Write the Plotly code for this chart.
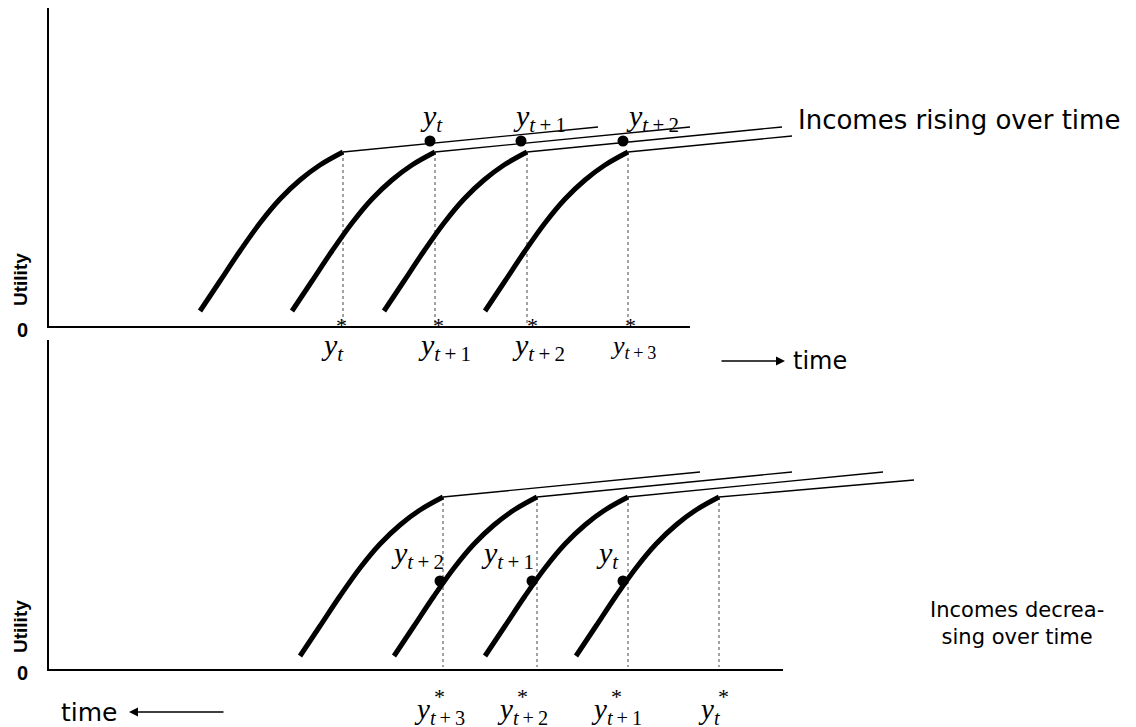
import plotly.graph_objects as go

# shape of one utility curve, measured from its kink (the reference income y*)
curve_dx = [-14.3, -12.3, -10.3, -8.3, -6.3, -4.3, -2.3, 0.0]
curve_du = [-15.9, -12.9, -9.9, -7.1, -4.7, -2.8, -1.3, 0.0]

# top panel - incomes rising over time
top_kink_x = [29.5, 38.7, 47.9, 58.0]
top_kink_u = 17.5
top_tail_x = [55.0, 64.2, 73.4, 74.4]
top_tail_u = [20.0, 20.0, 20.0, 19.1]
top_inc_x = [38.2, 47.3, 57.5]
top_inc_u = [18.6, 18.6, 18.6]
top_inc_lab = ["t", "t+1", "t+2"]
top_inc_lab_x = [37.0, 46.3, 57.6]
top_star_lab = ["t", "t+1", "t+2", "t+3"]
top_star_lab_x = [27.1, 36.8, 46.2, 56.0]
top_axis_len = (64.2, 32.2)

# bottom panel - incomes decreasing over time
bot_kink_x = [39.5, 48.9, 58.0, 67.1]
bot_kink_u = 17.3
bot_tail_x = [65.2, 74.4, 83.5, 86.6]
bot_tail_u = [19.8, 19.8, 19.8, 19.0]
bot_inc_x = [39.2, 48.4, 57.5]
bot_inc_u = [8.9, 8.9, 8.9]
bot_inc_lab = ["t+2", "t+1", "t"]
bot_inc_lab_x = [34.1, 43.1, 54.6]
bot_star_lab = ["t+3", "t+2", "t+1", "t"]
bot_star_lab_x = [36.4, 44.7, 54.1, 64.8]
bot_axis_len = (73.5, 33.0)

SERIF = "Liberation Serif"
SANS = "DejaVu Sans"


def sub_text(s):
    # "t+1" -> italic t, upright +1
    rest = s[1:]
    if rest:
        rest = "\u2009" + rest[0] + "\u2009" + rest[1:]
    return "<i>y</i><sub><i>t</i>" + rest + "</sub>"


fig = go.Figure()
annotations = []


def panel(xa, ya, kink_x, kink_u, tail_x, tail_u, inc_x, inc_u, axis_len):
    ax_x, ax_y = axis_len
    # axes
    fig.add_trace(go.Scatter(x=[0, 0, ax_x], y=[ax_y, 0, 0], mode="lines",
                             line=dict(color="black", width=2),
                             xaxis=xa, yaxis=ya, hoverinfo="skip"))
    for k, tx, tu in zip(kink_x, tail_x, tail_u):
        fig.add_trace(go.Scatter(x=[k, k], y=[kink_u, 0.3], mode="lines",
                                 line=dict(color="#444", width=1, dash="dot"),
                                 xaxis=xa, yaxis=ya, hoverinfo="skip"))
        fig.add_trace(go.Scatter(x=[k, tx], y=[kink_u, tu], mode="lines",
                                 line=dict(color="black", width=1.3),
                                 xaxis=xa, yaxis=ya, hoverinfo="skip"))
        fig.add_trace(go.Scatter(x=[k + d for d in curve_dx],
                                 y=[kink_u + d for d in curve_du],
                                 mode="lines",
                                 line=dict(color="black", width=5, shape="spline"),
                                 xaxis=xa, yaxis=ya, hoverinfo="skip"))
    fig.add_trace(go.Scatter(x=inc_x, y=inc_u, mode="markers",
                             marker=dict(color="black", size=11),
                             xaxis=xa, yaxis=ya, hoverinfo="skip"))


panel("x", "y", top_kink_x, top_kink_u, top_tail_x, top_tail_u,
      top_inc_x, top_inc_u, top_axis_len)
panel("x2", "y2", bot_kink_x, bot_kink_u, bot_tail_x, bot_tail_u,
      bot_inc_x, bot_inc_u, bot_axis_len)


def label(xr, yr, x, y, text, size, font=SERIF, **kw):
    d = dict(xref=xr, yref=yr, x=x, y=y, text=text, showarrow=False,
             font=dict(family=font, size=size, color="black"),
             xanchor="left", yanchor="middle")
    d.update(kw)
    annotations.append(d)


# income labels near the dots
for s, x in zip(top_inc_lab, top_inc_lab_x):
    label("x", "y", x, 20.9, sub_text(s), 30)
for s, x in zip(bot_inc_lab, bot_inc_lab_x):
    label("x2", "y2", x, 11.5, sub_text(s), 30)

# y* labels under the axes
for s, x in zip(top_star_lab, top_star_lab_x):
    label("x", "y", x, -2.0, sub_text(s), 30 if s != "t+3" else 26)
    label("x", "y", x + 1.5, 0.2, "*", 22)
for s, x in zip(bot_star_lab, bot_star_lab_x):
    label("x2", "y2", x, -4.1, sub_text(s), 29)
    label("x2", "y2", x + 2.0, -2.6, "*", 22)

# axis words
for xr, yr, uy in (("x", "y", 4.7), ("x2", "y2", 4.3)):
    label(xr, yr, -2.8, uy, "<b>Utility</b>", 19, "Liberation Sans",
          textangle=-90, xanchor="center")
    label(xr, yr, -2.6, -0.3, "<b>0</b>", 20, "Liberation Sans",
          xanchor="center")

label("x", "y", 74.8, 20.7, "Incomes rising over time", 26, SANS)
label("x2", "y2", 96.9, 4.7, "Incomes decrea-<br>sing over time", 21, SANS,
      xanchor="center")

# time arrows
label("x", "y", 74.3, -3.4, "time", 24, SANS)
annotations.append(dict(xref="x", yref="y", axref="x", ayref="y",
                        x=73.7, y=-3.4, ax=67.2, ay=-3.4, text="",
                        showarrow=True, arrowhead=2, arrowsize=1.2,
                        arrowwidth=1.5, arrowcolor="black"))
label("x2", "y2", 1.1, -4.2, "time", 25, SANS)
annotations.append(dict(xref="x2", yref="y2", axref="x2", ayref="y2",
                        x=8.1, y=-4.2, ax=17.7, ay=-4.2, text="",
                        showarrow=True, arrowhead=2, arrowsize=1.2,
                        arrowwidth=1.5, arrowcolor="black"))

# ranges leave room for the 8px page margin around the plot div
hidden = dict(visible=False, showgrid=False, zeroline=False)
fig.update_layout(
    width=1136, height=727,
    margin=dict(l=0, r=0, t=0, b=0),
    paper_bgcolor="white", plot_bgcolor="white",
    showlegend=False,
    xaxis=dict(range=[-4.0, 109.6], domain=[0, 1], **hidden),
    yaxis=dict(range=[-40.8, 31.9], domain=[0, 1], **hidden),
    xaxis2=dict(range=[-4.0, 109.6], domain=[0, 1], anchor="y2",
                overlaying="x", **hidden),
    yaxis2=dict(range=[-6.5, 66.2], domain=[0, 1], anchor="x2",
                overlaying="y", **hidden),
    annotations=annotations,
)

fig.write_html("out.html")
